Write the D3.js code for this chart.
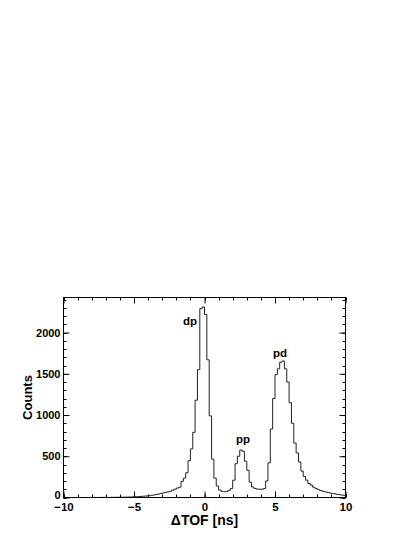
<!DOCTYPE html>
<html>
<head>
<meta charset="utf-8">
<script src="https://cdn.jsdelivr.net/npm/d3@7"></script>
<style>
  html, body { margin: 0; padding: 0; background: #fff; }
  svg text { font-family: "Liberation Sans", Arial, Helvetica, sans-serif; font-weight: bold; fill: #000; }
</style>
</head>
<body>
<svg id="chart" width="415" height="537"></svg>
<script>
// ---- data ----
const xRange = [-10, 10];            // ΔTOF [ns], histogram range
const binCounts = [
  0,0,0,0,0,0,0,0,0,0,0,0,
  0,1,0,1,1,1,
  1,1,2,2,2,3,3,4,4,5,6,7,
  9,10,12,14,16,19,
  22,26,30,36,42,48,
  55,62,68,75,88,100,
  115,125,195,235,300,445,
  590,790,1180,1550,2290,2310,
  2220,1670,990,465,235,140,90,
  75,70,75,88,110,
  210,410,500,575,560,440,330,185,128,
  110,102,100,100,108,
  200,420,830,1200,1490,1560,1640,1655,
  1560,1400,1150,900,660,540,430,320,255,210,170,150,
  125,110,95,85,75,68,62,55,48,45,38,34,30,26
];
const yMax = 2425;
const xMajorTicks = [-10, -5, 0, 5, 10];
const yMajorTicks = [0, 500, 1000, 1500, 2000];
const peakLabels = [
  { text: "dp", x: -1.03, y: 2093 },
  { text: "pp", x: 2.73, y: 659 },
  { text: "pd", x: 5.35, y: 1705 }
];
const xTitle = "\u0394TOF [ns]";
const yTitle = "Counts";

// ---- layout ----
const svg = d3.select("#chart");
const L = 63.5, R = 345.5, T = 297.5, B = 497.5;

const x = d3.scaleLinear().domain(xRange).range([L, R]);
const y = d3.scaleLinear().domain([0, yMax]).range([B, T]);

const nBins = binCounts.length;
const bw = (xRange[1] - xRange[0]) / nBins;
const pts = binCounts.map((v, i) => [xRange[0] + i * bw, v]);
pts.push([xRange[1], binCounts[nBins - 1]]);

const xMinor = d3.range(xRange[0], xRange[1] + 0.001, 1);
const yMinor = d3.range(0, yMax, 100);

// histogram
svg.append("path")
  .datum(pts)
  .attr("fill", "none")
  .attr("stroke", "#222")
  .attr("stroke-width", 1)
  .attr("d", d3.line().x(d => x(d[0])).y(d => y(d[1])).curve(d3.curveStepAfter));

// minor ticks (inward, all four sides)
const tickG = svg.append("g").attr("stroke", "#000").attr("stroke-width", 1);
function ticksX(vals, len) {
  tickG.selectAll(null).data(vals).enter().append("line")
    .attr("x1", d => Math.round(x(d)) + 0.5).attr("x2", d => Math.round(x(d)) + 0.5)
    .attr("y1", B).attr("y2", B - len);
  tickG.selectAll(null).data(vals).enter().append("line")
    .attr("x1", d => Math.round(x(d)) + 0.5).attr("x2", d => Math.round(x(d)) + 0.5)
    .attr("y1", T).attr("y2", T + len);
}
function ticksY(vals, len) {
  tickG.selectAll(null).data(vals).enter().append("line")
    .attr("y1", d => Math.round(y(d)) + 0.5).attr("y2", d => Math.round(y(d)) + 0.5)
    .attr("x1", L).attr("x2", L + len);
  tickG.selectAll(null).data(vals).enter().append("line")
    .attr("y1", d => Math.round(y(d)) + 0.5).attr("y2", d => Math.round(y(d)) + 0.5)
    .attr("x1", R).attr("x2", R - len);
}
ticksX(xMinor, 3);
ticksY(yMinor, 3);

// major axes with labels
const xAxis = d3.axisBottom(x).tickValues(xMajorTicks).tickSize(-6).tickPadding(5.5)
  .tickFormat(d3.format("d"));
const gx = svg.append("g").attr("transform", `translate(0,${B})`).call(xAxis);
gx.select(".domain").remove();
gx.selectAll("text").attr("font-size", 11.5).style("font-family", null);
svg.append("g").attr("transform", `translate(0,${T})`)
  .call(d3.axisTop(x).tickValues(xMajorTicks).tickSize(-6).tickFormat(""))
  .call(g => g.select(".domain").remove());

const yAxis = d3.axisLeft(y).tickValues(yMajorTicks).tickSize(-6).tickPadding(3)
  .tickFormat(d3.format("d"));
const gy = svg.append("g").attr("transform", `translate(${L},0)`).call(yAxis);
gy.select(".domain").remove();
gy.selectAll("text").attr("font-size", 11).style("font-family", null);
gy.selectAll(".tick").filter(d => d === 0).select("text").attr("dy", "0.1em");
svg.append("g").attr("transform", `translate(${R},0)`)
  .call(d3.axisRight(y).tickValues(yMajorTicks).tickSize(-6).tickFormat(""))
  .call(g => g.select(".domain").remove());
svg.selectAll(".tick line").attr("stroke", "#000");

// frame
svg.append("rect")
  .attr("x", L).attr("y", T).attr("width", R - L).attr("height", B - T)
  .attr("fill", "none").attr("stroke", "#000").attr("stroke-width", 1);

// titles
svg.append("text")
  .attr("x", (L + R) / 2).attr("y", 525)
  .attr("text-anchor", "middle").attr("font-size", 14)
  .text(xTitle);
svg.append("text")
  .attr("transform", `translate(32,${(T + B) / 2}) rotate(-90)`)
  .attr("text-anchor", "middle").attr("font-size", 13)
  .text(yTitle);

// peak labels
svg.selectAll(null).data(peakLabels).enter().append("text")
  .attr("x", d => x(d.x)).attr("y", d => y(d.y))
  .attr("text-anchor", "middle").attr("font-size", 11.5)
  .text(d => d.text);
</script>
</body>
</html>
